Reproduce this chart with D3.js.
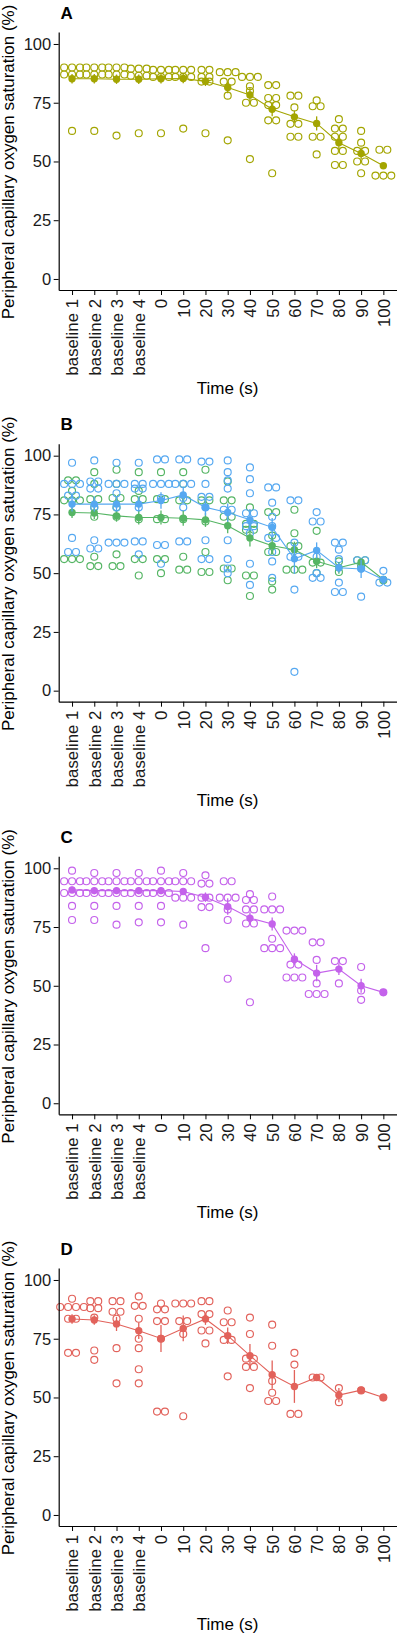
<!DOCTYPE html>
<html>
<head>
<meta charset="utf-8">
<script src="https://cdn.jsdelivr.net/npm/d3@7"></script>
<style>
  html, body { margin: 0; padding: 0; background: #ffffff; }
  svg { display: block; }
  text { font-family: "Liberation Sans", Arial, Helvetica, sans-serif; }
</style>
</head>
<body>
<div id="chart"></div>
<script>
// ---------- data ----------
const categories = ["baseline 1","baseline 2","baseline 3","baseline 4","0","10","20","30","40","50","60","70","80","90","100"];
const yTickValues = [0, 25, 50, 75, 100];
const panelLabels = ["A", "B", "C", "D"];
const xTitle = "Time (s)";
const yTitle = "Peripheral capillary oxygen saturation (%)";

// Panel A (olive)
const pointsA = [
  [90,90,90,87,87,87,63],
  [90,90,90,87,87,87,63],
  [90,90,90,87,87,87,61],
  [89.5,89.5,89.5,86.5,86.5,86.5,62],
  [89,89,89,86,86,86,62],
  [89,89,89,86,86,86,64],
  [89,89,86,86,84,84,62],
  [88,88,88,84,84,78,59],
  [86,86,86,82,80,75,75,51],
  [82.5,82.5,77,77,74,74,67.5,67.5,45],
  [78,78,73,66,66,60.5,60.5],
  [76,73.5,73.5,60.5,60.5,53],
  [68,64,64,60.5,60.5,54.5,54.5,48.5,48.5],
  [63,58,54.5,54.5,50,50,45],
  [55,55,44,44,44]
];
const meanA = [85.2,85.2,85,85,85.2,85.3,84.1,81.5,78.3,72.2,69,66.2,58,53.4,48.2];
const seA   = [2,2,2,2,2,2,2,2.5,3,3,2.5,3,3,2.5,1];

// Panel B (green series)
const pointsBgreen = [
  [89.5,89.5,85,81,81,81,56,56,56],
  [93,88,81.5,81.5,78,74,57,53,53],
  [94,88,82,82,78,74,58,53,53],
  [93,85,81.5,81.5,73,56,56,49],
  [93,81.5,81.5,73,73,56,56,50],
  [93,88,81,81,73,57,51.5,51.5],
  [94,81,81,72,59,50.5,50.5],
  [89,81,81,74,74,52,52,47],
  [78,71,71,68.5,68.5,49,49,40.3],
  [76,76,66,59,59,46.5,43],
  [77,67,61.5,61.5,51.5,51.5,51.5],
  [68,54.5,54.5,50],
  [55,50.5],
  [55.5,55.5,53],
  [47]
];
const meanBgreen = [75.8,75.6,74.4,73.7,73.7,73.4,72.7,70.2,65,61.7,60,55.1,52.3,54.7,47.3];
const seBgreen   = [2.3,2.5,2.5,3,3,3.2,3,3.2,3.6,3.6,3.4,3,2.5,0.5,0];

// Panel B (blue series)
const pointsBblue = [
  [97,88,88,88,83,83,65,59,59],
  [98,89,89,86,86,78,64,60.5,60.5],
  [97,88,88,88,84,78,63,63,63],
  [97,88,88,86,86,78,63.5,63.5,58],
  [98.4,98.4,88,88,88,82,62,62,54],
  [98.4,98.4,88,88,88,82,78,63.5,63.5],
  [97.5,97.5,88,82.5,82.5,78,64,56,56],
  [98,93,89.5,86,77,77,64,56,52,50],
  [95,90,84,75.5,75.5,70,70,67,54,45],
  [86.5,86.5,80,74,70,65,65,59,55,48],
  [81,81,63,57,57,43,8],
  [76,72,72,57,50,48,48],
  [63,63,60,56,46,42,42],
  [55.5,55.5,52,40],
  [51,46,46]
];
const meanBblue = [79.4,79.4,79.4,79.4,80.9,83.3,78,75.8,72.7,69.5,56.1,59.7,52.3,51.8,47.3];
const seBblue   = [3.2,3.2,3.2,3.2,3.5,3.5,3.5,3.9,4.6,4,6.4,3.4,2,3.9,0.7];

// Panel C (purple)
const pointsC = [
  [99,94.5,94.5,94.5,89.5,89.5,89.5,84,78],
  [98,94.5,94.5,94.5,89.5,89.5,89.5,84,78],
  [98,94.5,94.5,94.5,89.5,89.5,89.5,84,76],
  [98,94.5,94.5,94.5,89.5,89.5,89.5,84,77],
  [99,94.5,94.5,94.5,89.5,89.5,89.5,84,77],
  [98,94.5,94.5,94.5,87.5,87.5,87.5,76],
  [97,93.5,93.5,87.5,87.5,83.5,83.5,66],
  [94.5,94.5,87.5,87.5,87.5,82.5,78,53],
  [89,86.5,86.5,82.5,82.5,76.5,76.5,43],
  [88,82.5,82.5,82.5,70,66,66,66],
  [73.5,73.5,73.5,59,59,53.5,53.5,53.5],
  [68.5,68.5,61,51,46.5,46.5,46.5],
  [60.5,60.5,51],
  [58,48,44],
  [47.2]
];
const meanC = [90.8,90.5,90.5,90.5,90.5,90.1,87.7,83.7,78.8,76.3,61.3,55.4,57.1,50,47.2];
const seC   = [1.5,1.5,1.5,1.5,1.5,1.5,2,3.5,2.5,2.8,2.5,3.5,2.5,3,0];

// Panel D (red)
const pointsD = [
  [92,88.5,88.5,88.5,88.5,83.5,83.5,69,69],
  [91,91,88,88,84,70,66],
  [91,91,86.5,86.5,83.5,71,56],
  [93,89,89,83.5,75,71,62,56],
  [90,87.5,87.5,82.5,82.5,75,44,44],
  [90,90,90,82.5,82.5,77,42],
  [91,91,85.5,85.5,78.5,78.5,73],
  [87,82,82,74.5,74.5,59],
  [84,77,66.5,66.5,63,63,54],
  [81,72,57,52,48.5,48.5],
  [69,64,43,43],
  [58.5,58.5],
  [54,48],
  [53],
  [50]
];
const meanD = [83.4,83,81.3,78.4,75.1,79.4,83.4,76.3,67.8,59.7,54.7,58.5,51,53.1,50];
const seD   = [2,2,3,3.5,5.7,5.5,2.5,3.5,5,6,7,0.5,3,0.5,0];

const colorA = "#A3A500", colorBgreen = "#55B564", colorBblue = "#55A8F1", colorC = "#C462EB", colorD = "#E2625B";

const panels = [
  { label: panelLabels[0], series: [{ pts: pointsA, mean: meanA, se: seA, color: colorA }] },
  { label: panelLabels[1], series: [
      { pts: pointsBgreen, mean: meanBgreen, se: seBgreen, color: colorBgreen },
      { pts: pointsBblue,  mean: meanBblue,  se: seBblue,  color: colorBblue } ] },
  { label: panelLabels[2], series: [{ pts: pointsC, mean: meanC, se: seC, color: colorC }] },
  { label: panelLabels[3], series: [{ pts: pointsD, mean: meanD, se: seD, color: colorD }] }
];

// ---------- layout ----------
const W = 397, H = 1637;
const panelTops = [0, 411.7, 824.3, 1236];
const left = 58.7, right = 396.7;
const dotR = 3.5, dotStep = 7.9;

const svg = d3.select("#chart").append("svg").attr("width", W).attr("height", H);

const x = d3.scalePoint().domain(categories).range([left, right]).padding(0.6);

panels.forEach((p, pi) => {
  const P = panelTops[pi];
  const y = d3.scaleLinear().domain([-4.7, 105.1]).range([P + 290, P + 32]);
  const g = svg.append("g");

  // dots (dotplot-style horizontal stacking of equal values)
  p.series.forEach(s => {
    s.pts.forEach((vals, ci) => {
      const groups = d3.groups(vals, v => v);
      groups.forEach(([v, arr]) => {
        const k = arr.length;
        arr.forEach((_, j) => {
          g.append("circle")
            .attr("cx", x(categories[ci]) + (j - (k - 1) / 2) * dotStep)
            .attr("cy", y(v))
            .attr("r", dotR)
            .attr("fill", "none")
            .attr("stroke", s.color)
            .attr("stroke-width", 1.15);
        });
      });
    });
  });

  // summary lines, error bars, means
  p.series.forEach(s => {
    const line = d3.line().x((d, i) => x(categories[i])).y(d => y(d));
    g.append("path").datum(s.mean).attr("d", line)
      .attr("fill", "none").attr("stroke", s.color).attr("stroke-width", 1.1);
    s.mean.forEach((m, i) => {
      g.append("line")
        .attr("x1", x(categories[i])).attr("x2", x(categories[i]))
        .attr("y1", y(m - s.se[i])).attr("y2", y(m + s.se[i]))
        .attr("stroke", s.color).attr("stroke-width", 1.3);
      g.append("circle")
        .attr("cx", x(categories[i])).attr("cy", y(m)).attr("r", 3.7)
        .attr("fill", s.color);
    });
  });

  // axes
  const yAxis = d3.axisLeft(y).tickValues(yTickValues).tickSize(5).tickPadding(2.5).tickSizeOuter(0);
  const ya = svg.append("g").attr("transform", `translate(${left},0)`).call(yAxis);
  ya.select(".domain").attr("stroke", "#000").attr("stroke-width", 1.2);
  ya.selectAll(".tick line").attr("stroke", "#000").attr("stroke-width", 1);
  ya.selectAll(".tick text").attr("font-size", 16.5).attr("fill", "#1a1a1a")
    .attr("font-family", "Liberation Sans, Arial, sans-serif");

  const xAxis = d3.axisBottom(x).tickSize(5).tickPadding(2).tickSizeOuter(0);
  const xa = svg.append("g").attr("transform", `translate(0,${P + 290})`).call(xAxis);
  xa.select(".domain").attr("stroke", "#000").attr("stroke-width", 1.2);
  xa.selectAll(".tick line").attr("stroke", "#000").attr("stroke-width", 1);
  xa.selectAll(".tick text")
    .attr("font-size", 16.8).attr("fill", "#1a1a1a")
    .attr("font-family", "Liberation Sans, Arial, sans-serif")
    .attr("text-anchor", "end")
    .attr("transform", "rotate(-90)")
    .attr("x", -9).attr("y", 0).attr("dy", "0.35em");

  // titles
  svg.append("text").attr("x", (left + right) / 2).attr("y", P + 394)
    .attr("text-anchor", "middle").attr("font-size", 17).attr("fill", "#000").text(xTitle);
  svg.append("text")
    .attr("transform", `translate(14,${P + 162}) rotate(-90)`)
    .attr("text-anchor", "middle").attr("font-size", 17).attr("fill", "#000").text(yTitle);
  svg.append("text").attr("x", 60.5).attr("y", P + 18.5)
    .attr("font-size", 17).attr("font-weight", "bold").attr("fill", "#000").text(p.label);
});
</script>
</body>
</html>
